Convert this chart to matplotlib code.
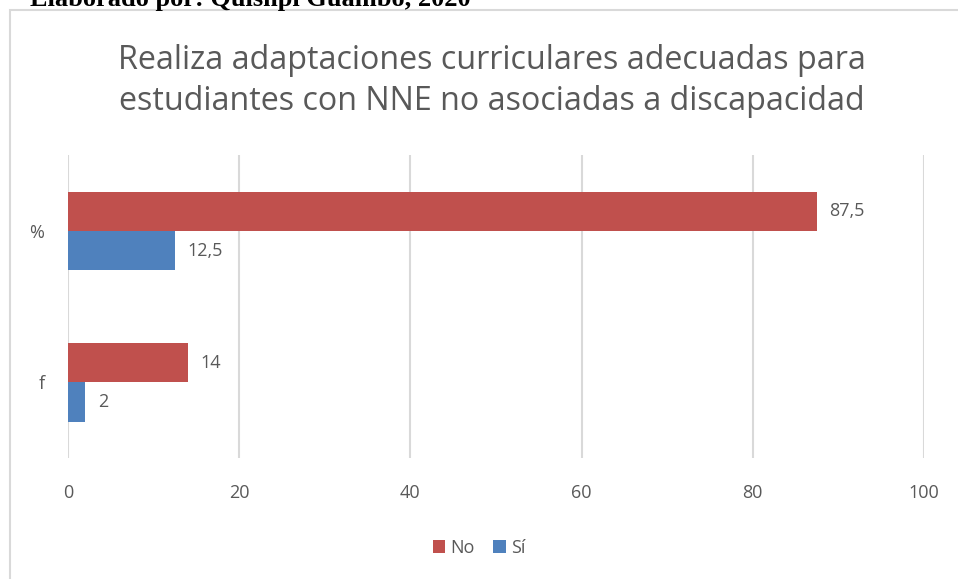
import matplotlib.pyplot as plt
from matplotlib.patches import Rectangle

# datos del grafico
categorias = ['f', '%']
no_vals = [14, 87.5]
si_vals = [2, 12.5]
etiquetas_no = ['14', '87,5']
etiquetas_si = ['2', '12,5']

rojo = '#C0504D'
azul = '#4F81BD'
gris = '#595959'

plt.rcParams['font.family'] = ['Open Sans', 'DejaVu Sans']

fig = plt.figure(figsize=(9.58, 5.79), dpi=100)
ax = fig.add_axes([0.071, 0.209, 0.8935, 0.523])

# marco del grafico
fig.patches.append(Rectangle((10 / 958, -0.1), 1.2, 1 - 10 / 579 + 0.1,
                             transform=fig.transFigure, fill=False,
                             edgecolor='#D9D9D9', linewidth=1.5))

# texto cortado arriba
fig.text(30 / 958, 1 - 6 / 579, 'Elaborado por: Quisnpi Guambo, 2020',
         family='Liberation Serif', weight='bold', fontsize=19,
         va='baseline', ha='left', color='black')

y = list(range(len(categorias)))
h = 0.26
ax.barh([v + h / 2 for v in y], no_vals, height=h, color=rojo, label='No')
ax.barh([v - h / 2 for v in y], si_vals, height=h, color=azul, label='Sí')

for i in y:
    ax.annotate(etiquetas_no[i], (no_vals[i], i + h / 2), xytext=(9, 0),
                textcoords='offset points', va='center', ha='left',
                fontsize=13, color=gris)
    ax.annotate(etiquetas_si[i], (si_vals[i], i - h / 2), xytext=(9, 0),
                textcoords='offset points', va='center', ha='left',
                fontsize=13, color=gris)

ax.set_xlim(0, 100)
ax.set_ylim(-0.5, 1.5)
ax.set_xticks([0, 20, 40, 60, 80, 100])
ax.set_yticks(y)
ax.set_yticklabels(categorias)
ax.tick_params(length=0, labelsize=13, labelcolor=gris)
ax.tick_params(axis='y', pad=17)
ax.tick_params(axis='x', pad=19)
ax.grid(axis='x', color='#D9D9D9', linewidth=1.5)
ax.set_axisbelow(True)
for s in ax.spines.values():
    s.set_visible(False)

fig.text(492 / 958, 1 - 81 / 579,
         'Realiza adaptaciones curriculares adecuadas para\n'
         'estudiantes con NNE no asociadas a discapacidad',
         ha='center', va='center', fontsize=23.2, color=gris, linespacing=1.35)

fig.legend(loc='center', bbox_to_anchor=(0.5, 1 - 548 / 579), ncol=2,
           frameon=False, fontsize=13, handlelength=0.7, handleheight=0.7,
           handletextpad=0.3, columnspacing=1.0, labelcolor=gris)

plt.savefig('out.png', dpi=100)
